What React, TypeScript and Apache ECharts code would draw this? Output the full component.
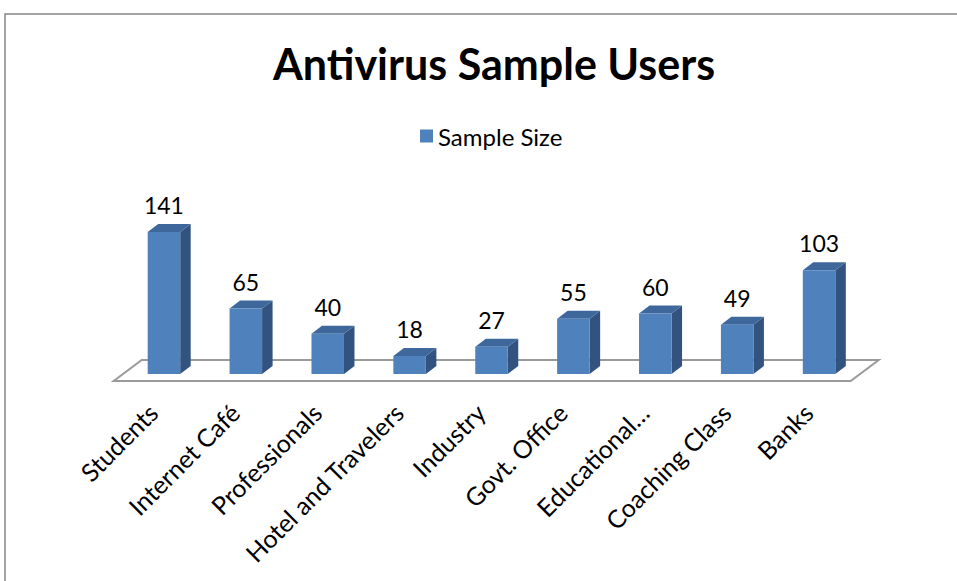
import React, { useEffect, useRef } from "react";
import * as echarts from "echarts";

const categories = [
  "Students",
  "Internet Café",
  "Professionals",
  "Hotel and Travelers",
  "Industry",
  "Govt. Office",
  "Educational…",
  "Coaching Class",
  "Banks",
];
const sampleSize = [141, 65, 40, 18, 27, 55, 60, 49, 103];
const seriesName = "Sample Size";
const titleText = "Antivirus Sample Users";

const FRONT = "#4F81BD";
const SIDE = "#32537F";
const TOP = "#3E689B";
const FONT = "Lato, 'Noto Sans', sans-serif";

export default function App() {
  const ref = useRef<HTMLDivElement>(null);
  useEffect(() => {
    if (!ref.current) return;
    const chart = echarts.init(ref.current, undefined, { renderer: "svg" });
    const dx = 10.5;
    const dy = -8;
    chart.setOption({
      animation: false,
      backgroundColor: "#ffffff",
      title: {
        text: titleText,
        left: 489,
        top: 37,
        textAlign: "center",
        textStyle: { fontFamily: FONT, fontWeight: "bold", fontSize: 43, color: "#000" },
      },
      legend: {
        data: [seriesName],
        left: 420,
        top: 124,
        padding: 0,
        icon: "rect",
        itemWidth: 13,
        itemHeight: 13,
        itemGap: 8,
        textStyle: { fontFamily: FONT, fontSize: 24, color: "#000" },
      },
      graphic: [
        {
          type: "rect",
          shape: { x: 5, y: 14, width: 1200, height: 1200 },
          style: { fill: "none", stroke: "#878787", lineWidth: 1.5 },
          z: -10,
        },
      ],
      grid: { left: 123, right: 97, top: 223, bottom: 207 },
      xAxis: {
        type: "category",
        data: categories,
        axisLine: { show: false },
        axisTick: { show: false },
        axisLabel: { show: false },
      },
      yAxis: { type: "value", min: 0, max: 150, show: false, splitLine: { show: false } },
      series: [
        {
          type: "custom",
          name: "floor",
          silent: true,
          z: 1,
          data: [[0, 0]],
          renderItem: (params: any) => {
            const cs = params.coordSys;
            const y0 = cs.y + cs.height;
            const l = cs.x;
            const r = cs.x + cs.width;
            const fx = -9.3, fy = 7, bx = 18.7, by = -14;
            return {
              type: "polygon",
              shape: {
                points: [
                  [l + fx, y0 + fy],
                  [r + fx, y0 + fy],
                  [r + bx, y0 + by],
                  [l + bx, y0 + by],
                ],
              },
              style: { fill: "#ffffff", stroke: "#9a9a9a", lineWidth: 2 },
            };
          },
        },
        {
          type: "custom",
          name: seriesName,
          z: 2,
          itemStyle: { color: FRONT },
          data: sampleSize.map((v, i) => [i, v]),
          renderItem: (params: any, api: any) => {
            const idx = api.value(0);
            const val = api.value(1);
            const base = api.coord([idx, 0]);
            const top = api.coord([idx, val]);
            const band = api.size([1, 0])[0];
            const bw = band * 0.397;
            const x0 = base[0] - bw / 2;
            const x1 = base[0] + bw / 2;
            const yb = base[1];
            const yt = top[1];
            return {
              type: "group",
              children: [
                {
                  type: "polygon",
                  shape: { points: [[x1, yt], [x1 + dx, yt + dy], [x1 + dx, yb + dy], [x1, yb]] },
                  style: { fill: SIDE },
                },
                {
                  type: "polygon",
                  shape: { points: [[x0, yt], [x0 + dx, yt + dy], [x1 + dx, yt + dy], [x1, yt]] },
                  style: { fill: TOP },
                },
                {
                  type: "rect",
                  shape: { x: x0, y: yt, width: bw, height: yb - yt },
                  style: { fill: FRONT },
                },
                {
                  type: "text",
                  x: base[0],
                  y: yt - 27,
                  style: {
                    text: String(val),
                    fontFamily: FONT,
                    fontSize: 23,
                    fill: "#000",
                    align: "center",
                    verticalAlign: "middle",
                  },
                },
                {
                  type: "text",
                  x: base[0] - 11,
                  y: yb + 34,
                  rotation: Math.PI / 4,
                  style: {
                    text: categories[idx],
                    fontFamily: FONT,
                    fontSize: 25,
                    fill: "#000",
                    align: "right",
                    verticalAlign: "middle",
                  },
                },
              ],
            };
          },
        },
      ],
    });
    return () => chart.dispose();
  }, []);
  return (
    <div
      ref={ref}
      style={{ position: "fixed", left: 0, top: 0, width: 957, height: 581 }}
    />
  );
}
